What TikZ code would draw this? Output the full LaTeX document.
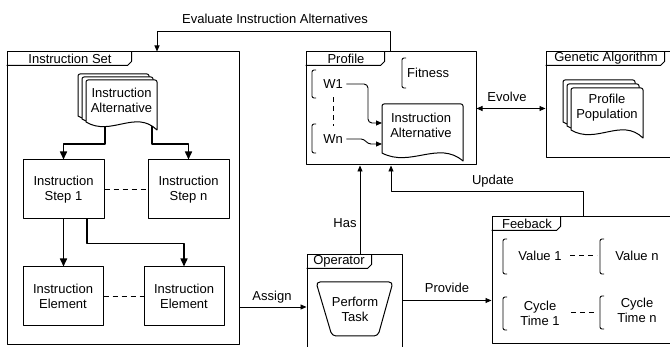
\documentclass[tikz,border=0pt]{standalone}
\usepackage{fontspec}
\setmainfont{Liberation Sans}
\usetikzlibrary{arrows.meta}

\tikzset{
	frm/.style={draw, line width=1pt, inner sep=0pt},
	box/.style={draw, line width=1pt, align=center, inner sep=0pt, minimum height=59pt},
	txt/.style={align=center, inner sep=1pt},
	tabtxt/.style={inner sep=0pt},
	flow/.style={line width=1.5pt, -{Triangle[length=8pt,width=7pt]}},
	con/.style={line width=0.9pt, ->},
	brk/.style={line width=0.9pt, rounded corners=2pt},
	dline/.style={line width=1pt, dash pattern=on 5pt off 4pt},
	docline/.style={line width=1pt, fill=white}
}

% document shape: left, top, right, bottom of left side
\newcommand{\docshape}[4]{%
	\draw[docline] (#1,#4) [rounded corners=2pt]-- (#1,#2) -- (#3,#2) [sharp corners]-- ({#3},{(#4)+8})
	.. controls ({(#3)*0.7+(#1)*0.3},{(#4)-13}) and ({(#1)*0.65+(#3)*0.35},{(#4)+15}) .. (#1,#4) -- cycle;}

\begin{document}
\begin{tikzpicture}[x=1pt, y=-1pt, font=\fontsize{13}{15}\selectfont, line join=round,
	>={Triangle[length=6pt,width=5pt]}]
	\useasboundingbox (0,0) rectangle (670,347);

	% frames
	\node[frm, minimum width=232pt, minimum height=293pt] (is) at (123,198.5) {};
	\node[frm, minimum width=170pt, minimum height=113pt] (pf) at (391,108.5) {};
	\node[frm, minimum width=130pt, minimum height=106pt] (ga) at (611,105) {};
	\node[frm, minimum width=95pt, minimum height=95pt] (op) at (354.5,302.5) {};
	\node[frm, minimum width=182pt, minimum height=127pt] (fb) at (583,280.5) {};

	\draw[line width=1pt]
	([yshift=-14pt]is.north west) -- ++(121,0) -- ++(4,-4) -- ++(0,-10)
	([yshift=-14pt]pf.north west) -- ++(75,0) -- ++(4,-4) -- ++(0,-10)
	([yshift=-14pt]ga.north west) -- ++(115,0) -- ++(4,-4) -- ++(0,-10)
	([yshift=-14pt]op.north west) -- ++(61,0) -- ++(4,-4) -- ++(0,-10)
	([yshift=-14pt]fb.north west) -- ++(65,0) -- ++(4,-4) -- ++(0,-10);

	\node[tabtxt] (istab) at (70,59) {Instruction Set};
	\node[tabtxt] (pftab) at (346,58.5) {Profile};
	\node[tabtxt] (gatab) at (606,58.5) {Genetic Algorithm};
	\node[tabtxt] (optab) at (339,261.5) {Operator};
	\node[tabtxt] (fbtab) at (527,223.5) {Feeback};

	% instruction set
	\node[box, minimum width=81pt] (st1) at (63.5,189.5) {Instruction\\Step 1};
	\node[box, minimum width=81pt] (stn) at (188.5,189.5) {Instruction\\Step n};
	\node[box, minimum width=80pt] (el1) at (63,296.5) {Instruction\\Element};
	\node[box, minimum width=80pt] (el2) at (184,296.5) {Instruction\\Element};

	\draw[dline] (st1) -- (stn);
	\draw[dline] (el1) -- (el2);

	\coordinate (iaL) at (105,120);
	\coordinate (iaR) at (152,120);
	\draw[flow] (iaL) -- ++(0,24) -| (st1.north);
	\draw[flow] (iaR) -- ++(0,24) -| (stn.north);
	\draw[flow] (st1.south) -- (st1.south |- el1.north);
	\draw[flow] ([xshift=23.5pt]st1.south) -- ++(0,24) -| (el2.north);

	\foreach \s in {8,4,0}
		\docshape{86-\s}{80-\s*0.75}{157-\s}{122-\s*0.75};
	\node[txt] (ia) at (121.5,100) {Instruction\\Alternative};

	% profile
	\draw[brk] (406,58) -- (402,58) -- (402,88) -- (406,88);
	\node[tabtxt, anchor=west] (fit) at (407,73) {Fitness};
	\draw[brk] (316,70) -- (312,70) -- (312,98) -- (316,98);
	\node (w1) at (333,84) {W1};
	\draw[brk] (316,124) -- (312,124) -- (312,153) -- (316,153);
	\node (wn) at (333,139) {Wn};
	\draw[dline] ([yshift=-5pt]w1.south) -- ([yshift=5pt]wn.north);

	\docshape{382}{104}{463}{153}
	\node[txt] (ia2) at (421,125) {Instruction\\Alternative};
	\coordinate (pin1) at (382,123);
	\coordinate (pin2) at (382,144);
	\draw[con, rounded corners=4pt] (w1.east) -- (368,84) -- (368,123) -- (pin1);
	\draw[con] (wn.east) -- (361,139) to[out=0,in=180] (371,144) -- (pin2);

	% genetic algorithm
	\foreach \s in {8,4,0}
		\docshape{571-\s}{88-\s}{643-\s}{130-\s};
	\node[txt] (pop) at (607,108) {Profile\\Population};

	% operator
	\draw[line width=1pt, rounded corners=4pt]
	(316,282) -- (393,282) -- (378,336) -- (332,336) -- cycle;
	\node[txt] (task) at (355,309) {Perform\\Task};

	% feedback
	\draw[brk] (507,239) -- (503,239) -- (503,274) -- (507,274);
	\node (v1) at (540,256) {Value 1};
	\draw[brk] (604,239) -- (600,239) -- (600,274) -- (604,274);
	\node (vn) at (637,256) {Value n};
	\draw[dline] ([xshift=5pt]v1.east) -- ++(27,0);

	\draw[brk] (507,297) -- (503,297) -- (503,330) -- (507,330);
	\node[txt] (c1) at (540,313) {Cycle\\Time 1};
	\draw[brk] (604,296) -- (600,296) -- (600,329) -- (604,329);
	\node[txt] (cn) at (637,310) {Cycle\\Time n};
	\draw[dline] ([xshift=10pt]c1.east) -- ++(24,0);

	% connectors
	\draw[con] ([xshift=-1pt]pf.north) -- ++(0,-20) -| ([xshift=34pt]is.north);
	\node (eval) at (275,19) {Evaluate Instruction Alternatives};

	\draw[con] ([xshift=5.5pt]op.north) -- ([xshift=5.5pt]op.north |- pf.south);
	\node (has) at (345,223) {Has};

	\draw[con] (fb.north) -- ++(0,-25) -| (pf.south);
	\node (upd) at (493,181) {Update};

	\draw[con, <->] (pf.east) -- (pf.east -| ga.west);
	\node (evo) at (507,97) {Evolve};

	\draw[con] ([yshift=2pt]op.east) -- ([yshift=2pt]op.east -| fb.west);
	\node (prov) at (447,288) {Provide};

	\draw[con] ([yshift=-4.5pt]op.west -| is.east) -- ([yshift=-4.5pt]op.west);
	\node (asg) at (272,297) {Assign};
\end{tikzpicture}
\end{document}
